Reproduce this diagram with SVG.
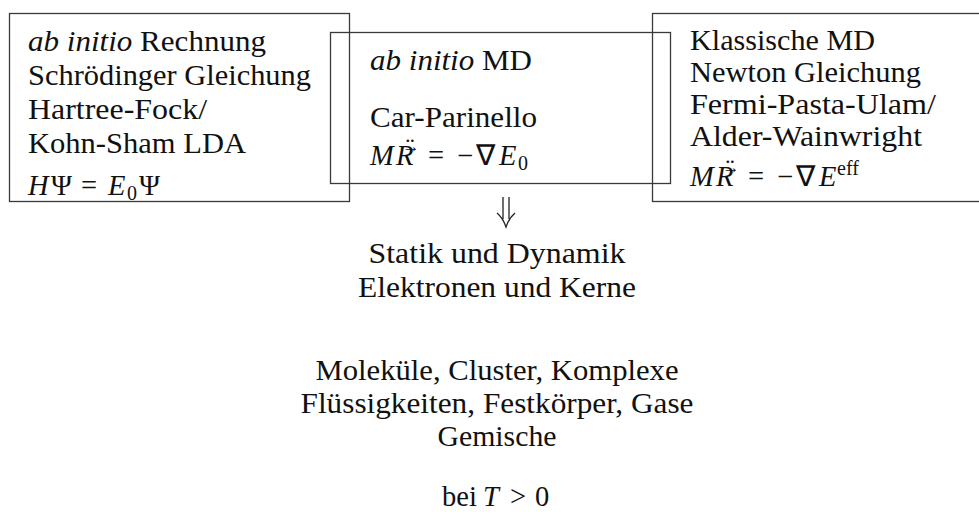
<svg xmlns="http://www.w3.org/2000/svg" width="979" height="526" viewBox="0 0 979 526">
<style>
.box{fill:none;stroke:#3a3a3a;stroke-width:1.3}
text{font-family:"Liberation Serif","Times New Roman",serif;font-size:28.5px;fill:#111}
.it{font-style:italic}
.c{text-anchor:middle}
.sub{font-size:20px}
.acc{font-size:17px;text-anchor:middle}
.dd{font-size:26px;text-anchor:middle}
.arr{fill:none;stroke:#222;stroke-width:1.3}
</style>
<rect width="979" height="526" fill="#fff"/>
<g id="node-abinitio">
<rect class="box" x="9.5" y="13.5" width="340" height="188"/>
<text x="28" y="51" textLength="238" lengthAdjust="spacingAndGlyphs"><tspan class="it">ab initio</tspan> Rechnung</text>
<text x="28" y="85" textLength="283" lengthAdjust="spacingAndGlyphs">Schrödinger Gleichung</text>
<text x="28" y="119" textLength="179" lengthAdjust="spacingAndGlyphs">Hartree-Fock/</text>
<text x="28" y="153" textLength="218" lengthAdjust="spacingAndGlyphs">Kohn-Sham LDA</text>
<text y="195"><tspan class="it" x="28">H</tspan><tspan x="51">Ψ</tspan><tspan x="81">=</tspan><tspan class="it" x="108">E</tspan><tspan class="sub" x="127" dy="5">0</tspan><tspan x="139" dy="-5">Ψ</tspan></text>
</g>
<g id="node-abinitio-md">
<rect class="box" x="330.5" y="32.5" width="340" height="151"/>
<text x="370" y="70" textLength="162" lengthAdjust="spacingAndGlyphs"><tspan class="it">ab initio</tspan> MD</text>
<text x="370" y="127" textLength="167" lengthAdjust="spacingAndGlyphs">Car-Parinello</text>
<text y="165"><tspan class="it" x="370">M</tspan><tspan class="it" x="396">R</tspan><tspan x="428">=</tspan><tspan x="457">−</tspan><tspan x="476">∇</tspan><tspan class="it" x="499">E</tspan><tspan class="sub" x="518" dy="5">0</tspan></text>
<text class="acc" x="411" y="152">→</text>
<text class="dd" x="410" y="156">¨</text>
</g>
<g id="node-klassisch">
<rect class="box" x="652.5" y="13.5" width="340" height="188"/>
<text x="690" y="50" textLength="185" lengthAdjust="spacingAndGlyphs">Klassische MD</text>
<text x="690" y="82" textLength="231" lengthAdjust="spacingAndGlyphs">Newton Gleichung</text>
<text x="690" y="114" textLength="246" lengthAdjust="spacingAndGlyphs">Fermi-Pasta-Ulam/</text>
<text x="690" y="146" textLength="232" lengthAdjust="spacingAndGlyphs">Alder-Wainwright</text>
<text y="186"><tspan class="it" x="690">M</tspan><tspan class="it" x="716">R</tspan><tspan x="748">=</tspan><tspan x="777">−</tspan><tspan x="796">∇</tspan><tspan class="it" x="819">E</tspan><tspan class="sub" x="837" dy="-11">eff</tspan></text>
<text class="acc" x="731" y="173">→</text>
<text class="dd" x="730" y="177">¨</text>
</g>
<g id="connectors">
<path class="arr" d="M503,197 V219 M509,197 V219 M497,213 Q503,218 506,227 Q509,218 515,213"/>
</g>
<g id="node-result">
<text x="497" y="263" class="c" textLength="257" lengthAdjust="spacingAndGlyphs">Statik und Dynamik</text>
<text x="497" y="297" class="c" textLength="278" lengthAdjust="spacingAndGlyphs">Elektronen und Kerne</text>
<text x="497" y="380" class="c" textLength="363" lengthAdjust="spacingAndGlyphs">Moleküle, Cluster, Komplexe</text>
<text x="497" y="413" class="c" textLength="393" lengthAdjust="spacingAndGlyphs">Flüssigkeiten, Festkörper, Gase</text>
<text x="497" y="446" class="c" textLength="119" lengthAdjust="spacingAndGlyphs">Gemische</text>
<text y="506"><tspan x="442">bei</tspan><tspan class="it" x="483">T</tspan><tspan x="510">&gt;</tspan><tspan x="535">0</tspan></text>
</g>
</svg>
